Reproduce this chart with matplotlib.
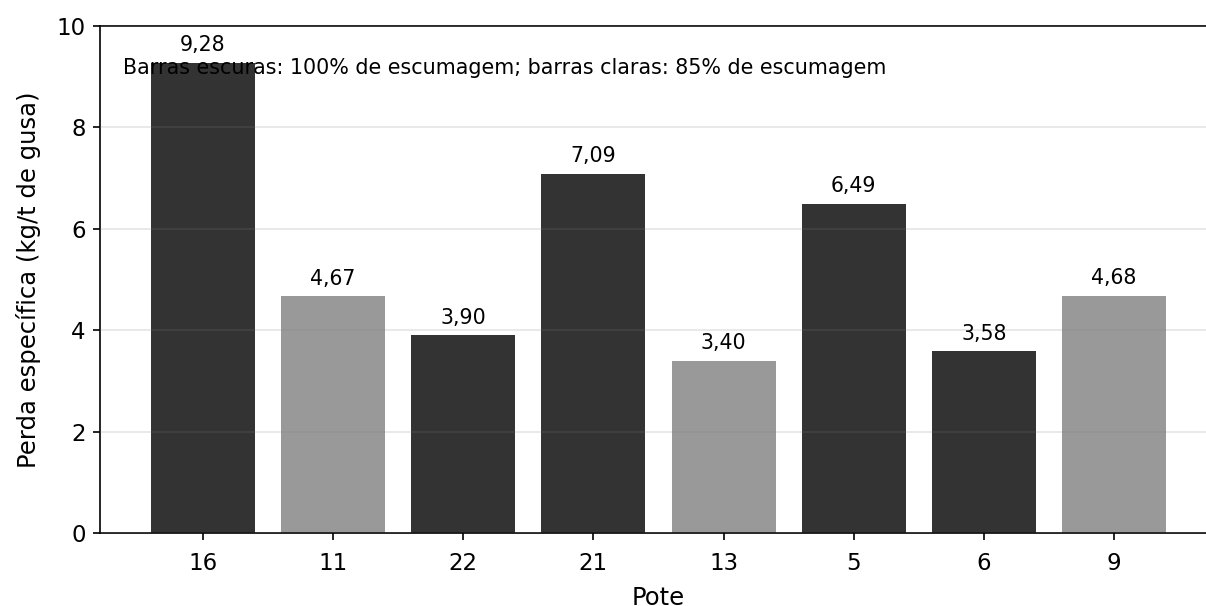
import matplotlib
matplotlib.use("Agg")
import matplotlib.pyplot as plt

potes = ["16", "11", "22", "21", "13", "5", "6", "9"]
perdas = [9.28, 4.67, 3.90, 7.09, 3.40, 6.49, 3.58, 4.68]
escumagem = [100, 85, 100, 100, 85, 100, 100, 85]

cores = ["#333333" if e == 100 else "#999999" for e in escumagem]

fig = plt.figure(figsize=(12.06, 6.06), dpi=100)
ax = fig.add_axes([100/1206, (606-533)/606, (1217-100)/1206, (533-26)/606])

x = list(range(len(potes)))
bars = ax.bar(x, perdas, width=0.8, color=cores)
ax.set_xticks(x)
ax.set_xticklabels(potes)
ax.set_xlim(-0.79, 7.79)
ax.set_ylim(0, 10)
ax.set_yticks([0, 2, 4, 6, 8, 10])
ax.tick_params(labelsize=16.5, length=5.25, width=1.2, pad=5)
ax.tick_params(axis="x", pad=8.5)
ax.set_xlabel("Pote", fontsize=17.5, labelpad=8)
ax.set_ylabel("Perda específica (kg/t de gusa)", fontsize=17.5, labelpad=11.5)
ax.yaxis.grid(True, color="gray", alpha=0.2, linewidth=1.2)
ax.set_axisbelow(False)
ax.spines["right"].set_visible(False)
for s in ["left", "bottom", "top"]:
    ax.spines[s].set_linewidth(1.2)

for b, v in zip(bars, perdas):
    ax.annotate(f"{v:.2f}".replace(".", ","), (b.get_x() + b.get_width()/2, v),
                xytext=(0, 5.5), textcoords="offset points", ha="center", va="bottom",
                fontsize=14.8)

ax.text(0.0206, 0.905, "Barras escuras: 100% de escumagem; barras claras: 85% de escumagem",
        transform=ax.transAxes, fontsize=14.9, va="baseline", ha="left")

fig.savefig("out.png", dpi=100)
